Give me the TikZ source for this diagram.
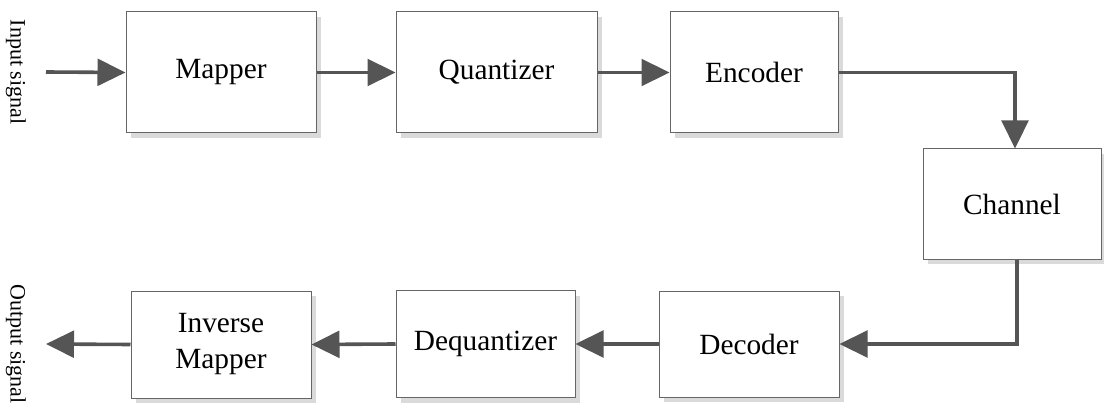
\documentclass[tikz,border=0pt]{standalone}
\usepackage{fontspec}
\setmainfont{Liberation Serif}
\usepackage{tikz}
\usetikzlibrary{positioning,arrows.meta,shadows}
\definecolor{edgeGray}{HTML}{666666}
\definecolor{flowGray}{HTML}{555555}
\definecolor{shadeGray}{HTML}{DADADA}

\begin{document}
\begin{tikzpicture}[x=0.75pt, y=-0.75pt,
    block/.style={draw=edgeGray, line width=0.75pt, fill=white, inner sep=0pt,
      align=center, font=\fontsize{22}{27}\selectfont,
      drop shadow={shadow xshift=4pt, shadow yshift=-4pt, fill=shadeGray, draw=none, opacity=1}},
    boxsize/.style 2 args={minimum width=#1*0.75pt, minimum height=#2*0.75pt},
    flow/.style={draw=flowGray, line width=2.7pt,
      -{Triangle[length=21pt, width=20pt]}},
    sig/.style={rotate=-90, font=\fontsize{16.5}{19}\selectfont}]
  \useasboundingbox (0,0) rectangle (1104,403);

  % encoding chain
  \node[block, boxsize={190}{121}] (map)   at (221, 72.5)   {Mapper};
  \node[block, boxsize={201}{121}] (quant) at (496.5, 72.5) {Quantizer};
  \node[block, boxsize={168}{121}] (enc)   at (754, 72.5)   {Encoder};
  \node[block, boxsize={178}{110}] (chan)  at (1012, 204)   {Channel};

  % decoding chain
  \node[block, boxsize={180}{106}] (dec)    at (749, 344)   {Decoder};
  \node[block, boxsize={179}{107}] (dequant) at (485.5, 344) {Dequantizer};
  \node[block, boxsize={180}{107}] (invmap) at (221, 344.5) {Inverse\\Mapper};

  % signal labels
  \node[sig] (insig)  at (16, 72)  {Input signal};
  \node[sig] (outsig) at (16, 344) {Output signal};
  \coordinate (src) at (46, 72);
  \coordinate (dst) at (46, 344);

  \draw[flow] (src) -- (map.west);
  \draw[flow] (map.east) -- (quant.west);
  \draw[flow] (quant.east) -- (enc.west);
  \draw[flow] (enc.east) -| ([xshift=2.25pt]chan.north);
  \draw[flow] ([xshift=3.75pt]chan.south) |- (dec.east);
  \draw[flow] (dec.west) -- (dequant.east);
  \draw[flow] (dequant.west) -- (invmap.east);
  \draw[flow] (invmap.west) -- (dst);
\end{tikzpicture}
\end{document}
